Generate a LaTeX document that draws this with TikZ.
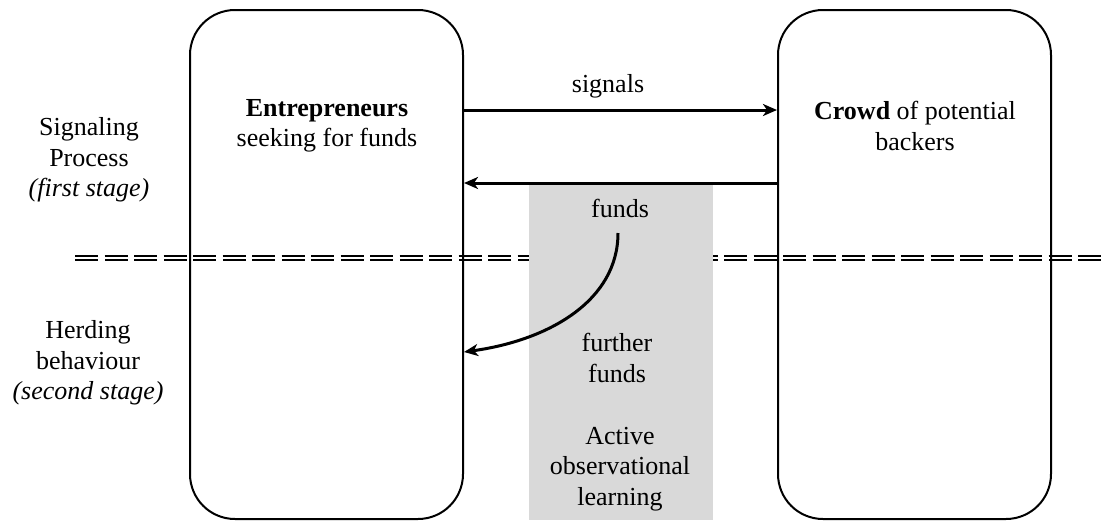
\documentclass[tikz,border=0pt]{standalone}
\usepackage{fontspec}
\setmainfont{Liberation Serif}
\usetikzlibrary{arrows.meta}
\definecolor{zonegray}{HTML}{D9D9D9}
\begin{document}
\begin{tikzpicture}[x=1pt,y=-1pt,
  every node/.style={font=\fontsize{26}{30.5}\selectfont, align=center, inner sep=0pt},
  actor/.style={draw, line width=2pt, rounded corners=45pt},
  flow/.style={line width=3pt, -{Stealth[length=14pt,width=12pt,inset=4pt]}},
  divider/.style={double, line width=2pt, double distance=2pt, dash pattern=on 23pt off 6.5pt}]
\useasboundingbox (0,0) rectangle (1109,520);
% stage divider
\draw[divider] (75,258) -- (1105,258);
% shaded zone
\fill[zonegray] (529,183) rectangle (713,520);
% actors
\draw[actor] (190,10) rectangle (463,519);
\draw[actor] (778,10) rectangle (1051,519);
\node (ent) at (327,126) {\textbf{Entrepreneurs}\\seeking for funds};
\node (crowd) at (915,126) {\textbf{Crowd} of potential\\backers};
% side labels
\node (sig) at (89,160) {Signaling\\Process\\\textit{(first stage)}};
\node (herd) at (88,363) {Herding\\behaviour\\\textit{(second stage)}};
% arrows
\coordinate (s1) at (464,110);
\coordinate (s2) at (777,110);
\coordinate (f1) at (777,183);
\coordinate (f2) at (464,183);
\draw[flow] (s1) -- (s2);
\node (sigl) at (608,86) {signals};
\draw[flow] (f1) -- (f2);
\node (funds) at (620,208) {funds};
\coordinate (c1) at (618,233);
\coordinate (c2) at (464,352);
\draw[flow] (c1) .. controls (618,300) and (550,340) .. (c2);
\node (further) at (617,358) {further\\funds};
\node (aol) at (620,469) {Active\\observational\\learning};
\end{tikzpicture}
\end{document}
